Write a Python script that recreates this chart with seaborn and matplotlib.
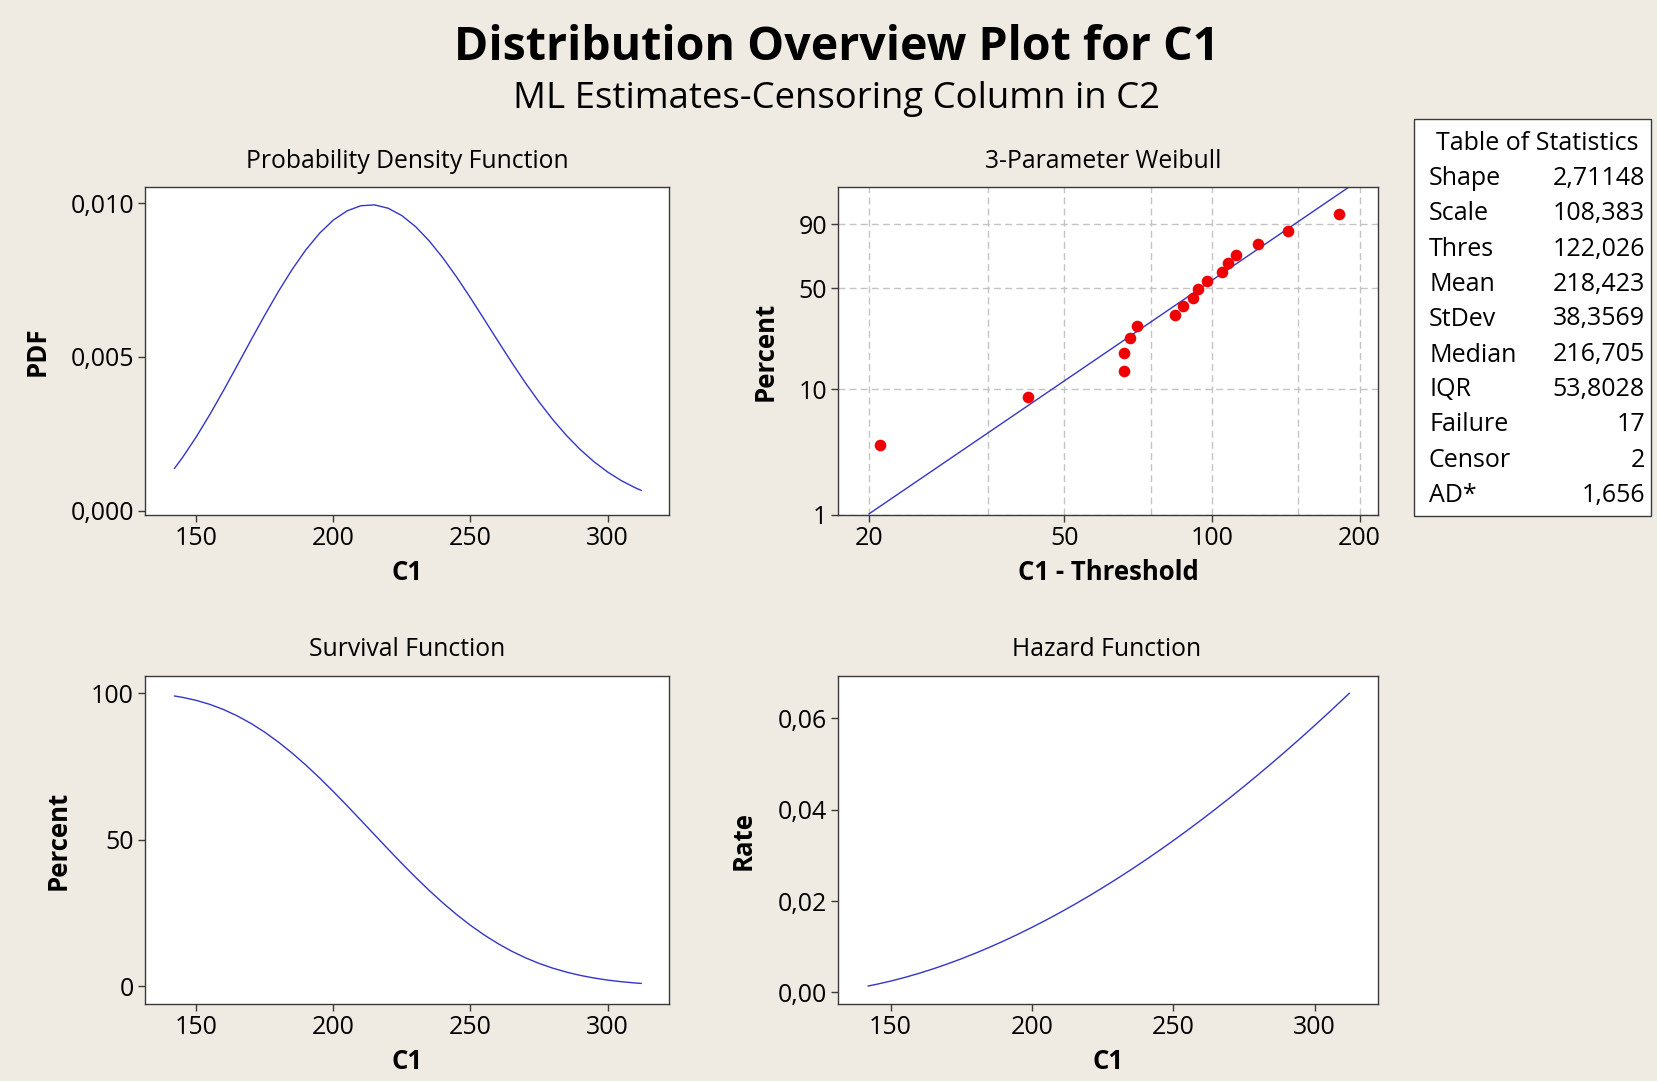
import matplotlib
matplotlib.use('Agg')
import numpy as np
import pandas as pd
import matplotlib.pyplot as plt
import matplotlib.ticker as mticker
from matplotlib.patches import Rectangle
import seaborn as sns

# ---------------- data ----------------
title = "Distribution Overview Plot for C1"
subtitle = "ML Estimates-Censoring Column in C2"

c1 = [142, 145, 150, 155, 160, 165, 170, 175, 180, 185, 190, 195, 200, 205, 210,
      215, 220, 225, 230, 235, 240, 245, 250, 255, 260, 265, 270, 275, 280, 285,
      290, 295, 300, 305, 310, 312.3]
pdf_vals = [0.001370, 0.001733, 0.002402, 0.003137, 0.003921, 0.004735, 0.005557,
            0.006365, 0.007138, 0.007853, 0.008490, 0.009029, 0.009455, 0.009754,
            0.009920, 0.009948, 0.009838, 0.009598, 0.009238, 0.008772, 0.008217,
            0.007594, 0.006923, 0.006225, 0.005521, 0.004828, 0.004163, 0.003539,
            0.002965, 0.002448, 0.001992, 0.001596, 0.001260, 0.000979, 0.000749,
            0.000659]
survival_pct = [98.99, 98.52, 97.49, 96.11, 94.35, 92.18, 89.61, 86.63, 83.25, 79.50,
                75.41, 71.03, 66.40, 61.59, 56.67, 51.70, 46.74, 41.88, 37.17, 32.66,
                28.41, 24.45, 20.82, 17.53, 14.60, 12.01, 9.77, 7.84, 6.22, 4.87,
                3.76, 2.87, 2.15, 1.60, 1.17, 1.01]
hazard_vals = [0.001384, 0.001759, 0.002463, 0.003264, 0.004156, 0.005136, 0.006201,
               0.007348, 0.008574, 0.009878, 0.011258, 0.012712, 0.014239, 0.015837,
               0.017506, 0.019242, 0.021047, 0.022919, 0.024856, 0.026859, 0.028925,
               0.031054, 0.033247, 0.035500, 0.037816, 0.040191, 0.042626, 0.045121,
               0.047674, 0.050286, 0.052955, 0.055682, 0.058464, 0.061303, 0.064198,
               0.065548]

fit_x = [20.0, 190.3]
fit_pct = [1.02, 99.0]

pts_x = [21.1, 42.2, 66.2, 66.2, 68.0, 70.2, 84.1, 87.2, 91.4, 93.9, 97.9, 104.9,
         108.0, 112.1, 124.3, 142.9, 181.9]
pts_pct = [3.63, 8.73, 13.75, 18.76, 23.87, 29.18, 34.51, 39.17, 44.0, 49.4, 55.1,
           61.2, 67.1, 72.6, 79.8, 86.9, 93.96]

stat_names = ["Shape", "Scale", "Thres", "Mean", "StDev", "Median", "IQR",
              "Failure", "Censor", "AD*"]
stat_values = ["2,71148", "108,383", "122,026", "218,423", "38,3569", "216,705",
               "53,8028", "17", "2", "1,656"]

pdf_ticks = [0.000, 0.005, 0.010]
surv_ticks = [0, 50, 100]
haz_ticks = [0.00, 0.02, 0.04, 0.06]
c1_ticks = [150, 200, 250, 300]
wb_xticks = [20, 50, 100, 200]
wb_xgrid_minor = [35, 75, 150]
wb_yticks = [1, 10, 50, 90]

# ---------------- style ----------------
sns.set_style("ticks")
plt.rcParams['font.family'] = ['Open Sans', 'DejaVu Sans']
plt.rcParams['text.color'] = 'black'
plt.rcParams['axes.labelcolor'] = 'black'

BG = '#EFEBE2'
LINE = '#3535C8'
SPINE = '#3a3a3a'
W, H = 1657, 1081

fig = plt.figure(figsize=(W / 100, H / 100), dpi=100, facecolor=BG)


def axes_px(x0, y0, x1, y1):
    return fig.add_axes([x0 / W, 1 - y1 / H, (x1 - x0) / W, (y1 - y0) / H])


ax_pdf = axes_px(145, 187, 669, 515)
ax_wb = axes_px(838, 187, 1378, 515)
ax_sv = axes_px(145, 676, 669, 1004)
ax_hz = axes_px(838, 676, 1378, 1004)

df = pd.DataFrame({"C1": c1, "PDF": pdf_vals, "Surv": survival_pct, "Haz": hazard_vals})


def comma_fmt(dec):
    return mticker.FuncFormatter(lambda v, p: f"{v:.{dec}f}".replace('.', ','))


def style_axes(ax):
    ax.set_facecolor('white')
    for s in ax.spines.values():
        s.set_visible(True)
        s.set_color(SPINE)
        s.set_linewidth(1.0)
    ax.tick_params(which='major', direction='out', length=5, width=1, color=SPINE,
                   labelsize=18, pad=3, labelcolor='black')
    ax.tick_params(top=False, right=False)


def labels(ax, xl, yl, ylx, xly=-0.176):
    ax.set_xlabel(xl, fontsize=18.5, fontweight='bold', color='black')
    ax.set_ylabel(yl, fontsize=18.5, fontweight='bold', color='black')
    ax.xaxis.label.set_va('center')
    ax.yaxis.label.set_va('center')
    ax.xaxis.set_label_coords(0.5, xly)
    ax.yaxis.set_label_coords(ylx, 0.5)


# PDF
sns.lineplot(data=df, x="C1", y="PDF", ax=ax_pdf, color=LINE, lw=1.0)
ax_pdf.set_xlim(131.3, 322.4)
ax_pdf.set_ylim(-0.00014, 0.01053)
ax_pdf.set_xticks(c1_ticks)
ax_pdf.set_yticks(pdf_ticks)
ax_pdf.yaxis.set_major_formatter(comma_fmt(3))
style_axes(ax_pdf)
labels(ax_pdf, "C1", "PDF", -0.206)

# Survival
sns.lineplot(data=df, x="C1", y="Surv", ax=ax_sv, color=LINE, lw=1.0)
ax_sv.set_xlim(131.3, 322.4)
ax_sv.set_ylim(-6.0, 105.8)
ax_sv.set_xticks(c1_ticks)
ax_sv.set_yticks(surv_ticks)
style_axes(ax_sv)
labels(ax_sv, "C1", "Percent", -0.166)

# Hazard
sns.lineplot(data=df, x="C1", y="Haz", ax=ax_hz, color=LINE, lw=1.0)
ax_hz.set_xlim(131.4, 322.4)
ax_hz.set_ylim(-0.00255, 0.0693)
ax_hz.set_xticks(c1_ticks)
ax_hz.set_yticks(haz_ticks)
ax_hz.yaxis.set_major_formatter(comma_fmt(2))
style_axes(ax_hz)
labels(ax_hz, "C1", "Rate", -0.176)

# Weibull probability plot
def wfwd(p):
    p = np.clip(np.asarray(p, dtype=float), 1e-6, 100 - 1e-6)
    return np.log(-np.log(1 - p / 100.0))


def winv(t):
    return 100.0 * (1 - np.exp(-np.exp(np.asarray(t, dtype=float))))


ax_wb.set_xscale('log')
ax_wb.set_yscale('function', functions=(wfwd, winv))
ax_wb.set_xlim(17.3, 218)
ax_wb.set_ylim(1, 99)
ax_wb.xaxis.set_major_locator(mticker.FixedLocator(wb_xticks))
ax_wb.xaxis.set_minor_locator(mticker.FixedLocator(wb_xgrid_minor))
ax_wb.xaxis.set_major_formatter(mticker.FuncFormatter(lambda v, p: f"{v:.0f}"))
ax_wb.xaxis.set_minor_formatter(mticker.NullFormatter())
ax_wb.yaxis.set_major_locator(mticker.FixedLocator(wb_yticks))
ax_wb.yaxis.set_minor_locator(mticker.NullLocator())
ax_wb.yaxis.set_major_formatter(mticker.FuncFormatter(lambda v, p: f"{v:.0f}"))
ax_wb.grid(True, axis='x', which='both', color='#c4c4c4', ls=(0, (5, 3)), lw=1.0)
ax_wb.grid(True, axis='y', which='major', color='#c4c4c4', ls=(0, (5, 3)), lw=1.0)
ax_wb.set_axisbelow(True)
style_axes(ax_wb)
ax_wb.tick_params(which='minor', length=0)

fit_df = pd.DataFrame({"x": fit_x, "p": fit_pct})
sns.lineplot(data=fit_df, x="x", y="p", ax=ax_wb, color=LINE, lw=1.0)
pts_df = pd.DataFrame({"x": pts_x, "p": pts_pct})
sns.scatterplot(data=pts_df, x="x", y="p", ax=ax_wb, color='#EE0000', s=70,
                linewidth=0, zorder=5)
ax_wb.set_xlim(17.3, 218)
ax_wb.set_ylim(1, 99)
labels(ax_wb, "C1 - Threshold", "Percent", -0.135)

# Subplot titles
def fig_text_px(x, y, s, **kw):
    fig.text(x / W, 1 - y / H, s, color='black', **kw)


fig_text_px(407, 161, "Probability Density Function", ha='center', va='center', fontsize=17.8)
fig_text_px(1103, 161, "3-Parameter Weibull", ha='center', va='center', fontsize=17.8)
fig_text_px(407, 649, "Survival Function", ha='center', va='center', fontsize=17.8)
fig_text_px(1107, 649, "Hazard Function", ha='center', va='center', fontsize=17.8)

# Main titles
fig_text_px(837, 47, title, ha='center', va='center', fontsize=33.5, fontweight='bold')
fig_text_px(837, 99, subtitle, ha='center', va='center', fontsize=26.3)

# Table of statistics
fig.patches.append(Rectangle((1414 / W, 1 - 516 / H), (1651 - 1414) / W, (516 - 119) / H,
                             transform=fig.transFigure, facecolor='white',
                             edgecolor=SPINE, lw=1.0, zorder=0))
fig_text_px(1537, 143, "Table of Statistics", ha='center', va='center', fontsize=18)
row_y = [178.5, 213.4, 249.3, 284.2, 319.0, 355.0, 389.8, 424.7, 460.7, 495.5]
for name, val, yy in zip(stat_names, stat_values, row_y):
    fig_text_px(1429, yy, name, ha='left', va='center', fontsize=18)
    fig_text_px(1645, yy, val, ha='right', va='center', fontsize=18)

fig.savefig("out.png", dpi=100, facecolor=BG)
